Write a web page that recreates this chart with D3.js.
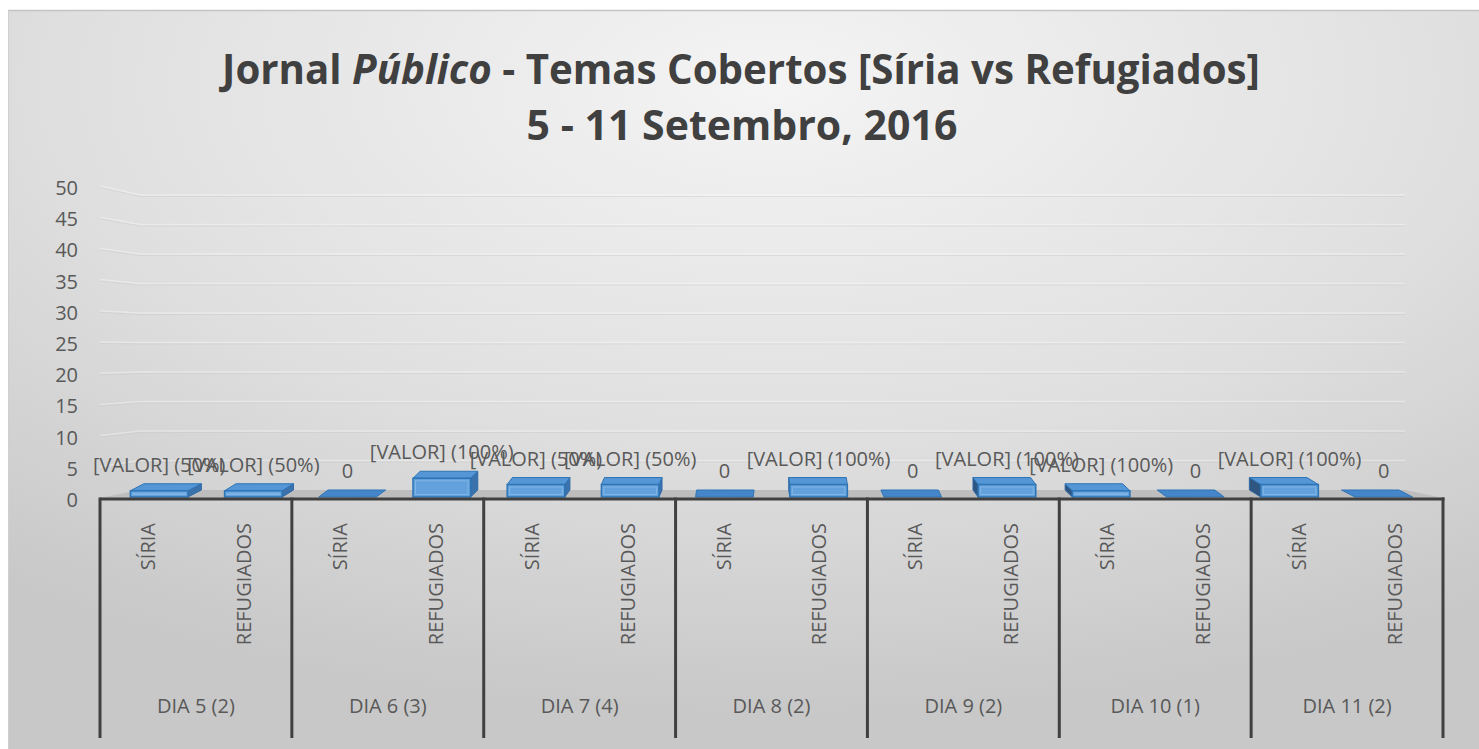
<!DOCTYPE html>
<html>
<head>
<meta charset="utf-8">
<script src="https://cdn.jsdelivr.net/npm/d3@7"></script>
<style>
  html, body { margin: 0; padding: 0; background: #ffffff; }
  svg { display: block; }
  text { font-family: "Open Sans", "Noto Sans", sans-serif; }
</style>
</head>
<body>
<svg id="chart" width="1479" height="749"></svg>
<script>
// ---- data ----
const days = ["DIA 5 (2)", "DIA 6 (3)", "DIA 7 (4)", "DIA 8 (2)", "DIA 9 (2)", "DIA 10 (1)", "DIA 11 (2)"];
const series = ["SÍRIA", "REFUGIADOS"];
const siria = [1, 0, 2, 0, 0, 1, 2];
const refugiados = [1, 3, 2, 2, 2, 0, 0];
const yTicks = [0, 5, 10, 15, 20, 25, 30, 35, 40, 45, 50];
const titleLine1 = [
  { t: "Jornal ", italic: false },
  { t: "Público", italic: true },
  { t: " - Temas Cobertos [Síria vs Refugiados]", italic: false }
];
const titleLine2 = "5 - 11 Setembro, 2016";

const W = 1479, H = 749;
const svg = d3.select("#chart");

// ---- background ----
const defs = svg.append("defs");
const rg = defs.append("radialGradient").attr("id", "bg")
  .attr("cx", "52%").attr("cy", "10%").attr("r", "85%");
rg.append("stop").attr("offset", "0%").attr("stop-color", "#f4f4f4");
rg.append("stop").attr("offset", "55%").attr("stop-color", "#e0e0e0");
rg.append("stop").attr("offset", "100%").attr("stop-color", "#c8c8c8");
svg.append("rect").attr("x", 8).attr("y", 10).attr("width", W - 8).attr("height", H - 10)
  .attr("fill", "url(#bg)");
svg.append("line").attr("x1", 8).attr("x2", W).attr("y1", 10.5).attr("y2", 10.5)
  .attr("stroke", "#c4c4c4").attr("stroke-width", 1.5);
svg.append("line").attr("x1", 8.5).attr("x2", 8.5).attr("y1", 10).attr("y2", H)
  .attr("stroke", "#cfcfcf").attr("stroke-width", 1);

// ---- scales ----
const left = 100, right = 1443;
const x0 = d3.scaleBand().domain(days).range([left, right]).padding(0);
const x1 = d3.scaleBand().domain(series).range([0, x0.bandwidth()]).padding(0);
const yFront = d3.scaleLinear().domain([0, 50]).range([498, 186]);
const yBack = d3.scaleLinear().domain([0, 50]).range([490, 195]);
const backLeft = 140, backRight = 1405;
const vpX = 770;

// ---- gridlines (left wall + back wall) ----
const grid = svg.append("g");
yTicks.filter(v => v > 0).forEach(v => {
  grid.append("path")
    .attr("d", `M${left},${yFront(v)} L${backLeft},${yBack(v)} L${backRight},${yBack(v)}`)
    .attr("fill", "none").attr("stroke", "#ffffff").attr("stroke-width", 1.5).attr("opacity", 0.35);
  grid.append("path")
    .attr("d", `M${left},${yFront(v) + 1.5} L${backLeft},${yBack(v) + 1.5} L${backRight},${yBack(v) + 1.5}`)
    .attr("fill", "none").attr("stroke", "#c8c8c8").attr("stroke-width", 1).attr("opacity", 0.45);
});

// ---- floor ----
svg.append("path")
  .attr("d", `M${left},${yFront(0)} L${backLeft},${yBack(0)} L${backRight},${yBack(0)} L${right},${yFront(0)} Z`)
  .attr("fill", "#bdbdbd");

// ---- y tick labels ----
svg.append("g").selectAll("text").data(yTicks).join("text")
  .attr("x", 78).attr("y", d => yFront(d) + 2)
  .attr("dy", "0.35em")
  .attr("text-anchor", "end")
  .attr("font-size", 20).attr("fill", "#595959")
  .text(d => d);

// ---- bars ----
const rows = [];
days.forEach((d, i) => {
  const total = siria[i] + refugiados[i];
  [siria[i], refugiados[i]].forEach((v, j) => {
    rows.push({ day: d, s: series[j], v, total });
  });
});

const barW = x0.bandwidth() * 0.3;
const depthY = -7;
const bars = svg.append("g");
rows.forEach(r => {
  const cLabel = x0(r.day) + x1(r.s) + x1.bandwidth() / 2;
  const shift = (vpX - cLabel) * 0.018;
  const cx = cLabel + shift;
  const dx = (vpX - cx) * 0.022;
  const xa = cx - barW / 2, xb = cx + barW / 2;
  const base = yFront(0) - 1, top = yFront(r.v) - 1;
  r.cx = cx;
  const g = bars.append("g");
  if (r.v > 0) {
    const sx = dx > 0 ? xb : xa;
    g.append("path")
      .attr("d", `M${sx},${top} L${sx + dx},${top + depthY} L${sx + dx},${base + depthY} L${sx},${base} Z`)
      .attr("fill", dx > 0 ? "#3c72ab" : "#2f5680").attr("stroke", "#2e6aa8").attr("stroke-width", 1);
  }
  g.append("path")
    .attr("d", `M${xa},${top} L${xb},${top} L${xb + dx},${top + depthY} L${xa + dx},${top + depthY} Z`)
    .attr("fill", r.v > 0 ? "#5596d6" : "#4585c9").attr("stroke", "#2e75b6").attr("stroke-width", 1);
  if (r.v > 0) {
    g.append("rect")
      .attr("x", xa).attr("y", top).attr("width", barW).attr("height", base - top)
      .attr("fill", "#62a1dc").attr("stroke", "#2e75b6").attr("stroke-width", 1.5);
    g.append("rect")
      .attr("x", xa + 2.5).attr("y", top + 2.5).attr("width", barW - 5).attr("height", Math.max(0, base - top - 5))
      .attr("fill", "none").attr("stroke", "#8fbde8").attr("stroke-width", 1).attr("opacity", 0.7);
  }
});

// ---- axis lines ----
svg.append("line").attr("x1", left).attr("x2", right + 1.5)
  .attr("y1", yFront(0) + 1).attr("y2", yFront(0) + 1)
  .attr("stroke", "#404040").attr("stroke-width", 3);
const dividers = days.map(d => x0(d)).concat([right]);
svg.append("g").selectAll("line").data(dividers).join("line")
  .attr("x1", d => d).attr("x2", d => d)
  .attr("y1", yFront(0) - 0.5).attr("y2", 738)
  .attr("stroke", "#404040").attr("stroke-width", 3);

// ---- data labels ----
svg.append("g").selectAll("text").data(rows).join("text")
  .attr("x", d => d.cx).attr("y", d => yFront(d.v) - 20)
  .attr("text-anchor", "middle")
  .attr("font-size", 20).attr("fill", "#595959")
  .text(d => d.v === 0 ? "0" : `[VALOR] (${Math.round(d.v / d.total * 100)}%)`);

// ---- category labels ----
const catG = svg.append("g");
days.forEach(d => {
  series.forEach(s => {
    const cx = x0(d) + x1(s) + x1.bandwidth() / 2;
    catG.append("text")
      .attr("transform", `translate(${cx},523) rotate(-90)`)
      .attr("text-anchor", "end").attr("dy", "0.35em")
      .attr("font-size", 20).attr("fill", "#595959")
      .text(s);
  });
  catG.append("text")
    .attr("x", x0(d) + x0.bandwidth() / 2).attr("y", 713)
    .attr("text-anchor", "middle")
    .attr("font-size", 20).attr("fill", "#595959")
    .text(d);
});

// ---- title ----
const t1 = svg.append("text").attr("x", 741).attr("y", 84)
  .attr("text-anchor", "middle").attr("font-weight", "bold")
  .attr("font-size", 40).attr("fill", "#404040");
titleLine1.forEach(p => {
  t1.append("tspan").attr("font-style", p.italic ? "italic" : "normal").text(p.t);
});
const t2 = svg.append("text").attr("x", 742).attr("y", 140)
  .attr("text-anchor", "middle").attr("font-weight", "bold")
  .attr("font-size", 40).attr("fill", "#404040")
  .text(titleLine2);
const fit = (sel, target) => {
  const len = sel.node().getComputedTextLength();
  if (len > 0) sel.attr("font-size", 40 * target / len);
};
fit(t1, 1038);
fit(t2, 431);
</script>
</body>
</html>
